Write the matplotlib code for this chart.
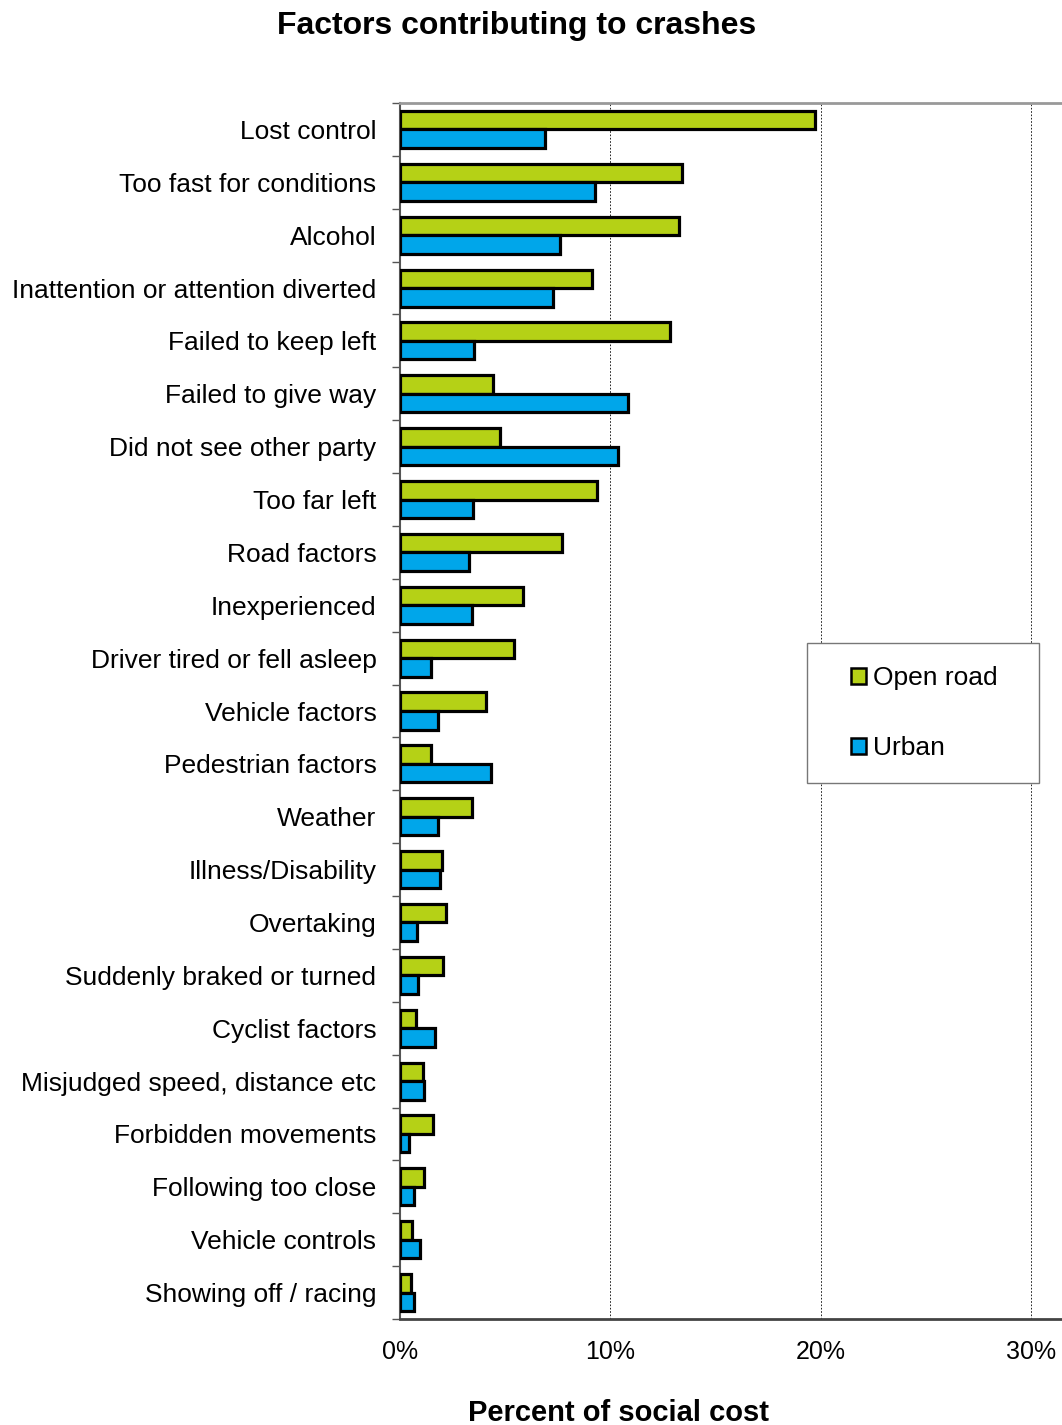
import numpy as np
import matplotlib.pyplot as plt
from matplotlib.patches import Patch, Rectangle
from matplotlib.ticker import FuncFormatter

# categories, top to bottom
factors = ["Lost control", "Too fast for conditions", "Alcohol",
           "Inattention or attention diverted", "Failed to keep left",
           "Failed to give way", "Did not see other party", "Too far left",
           "Road factors", "Inexperienced", "Driver tired or fell asleep",
           "Vehicle factors", "Pedestrian factors", "Weather",
           "Illness/Disability", "Overtaking", "Suddenly braked or turned",
           "Cyclist factors", "Misjudged speed, distance etc",
           "Forbidden movements", "Following too close", "Vehicle controls",
           "Showing off / racing"]

# percent of social cost
open_road = [19.7, 13.4, 13.25, 9.1, 12.85, 4.4, 4.75, 9.35, 7.7, 5.85, 5.4,
             4.1, 1.45, 3.4, 2.0, 2.2, 2.05, 0.75, 1.1, 1.55, 1.15, 0.55, 0.5]
urban = [6.9, 9.25, 7.6, 7.25, 3.5, 10.85, 10.35, 3.45, 3.3, 3.4, 1.45,
         1.8, 4.3, 1.8, 1.9, 0.8, 0.85, 1.65, 1.15, 0.45, 0.65, 0.95, 0.65]

x_ticks = [0, 10, 20, 30]

green = "#b5d116"
blue = "#00a6ea"

plt.rcParams['font.family'] = ['Liberation Sans', 'DejaVu Sans']

W, H = 1062, 1425
fig = plt.figure(figsize=(W / 100, H / 100), dpi=100)
ax = fig.add_axes([400 / W, 1 - 1319 / H, 662 / W, (1319 - 103) / H])

n = len(factors)
y = np.arange(n)
h = 0.35
ax.barh(y - h / 2, open_road, height=h, color=green, edgecolor="black", linewidth=2.3, zorder=3)
ax.barh(y + h / 2, urban, height=h, color=blue, edgecolor="black", linewidth=2.3, zorder=3)

ax.set_ylim(n - 0.5, -0.5)
ax.set_xlim(0, 31.45)

ax.set_yticks(y)
ax.set_yticklabels(factors, fontsize=19)
ax.set_yticks(np.arange(n + 1) - 0.5, minor=True)
ax.tick_params(axis='y', which='major', length=0, pad=17)
ax.tick_params(axis='y', which='minor', length=6, width=1, color="#555555", direction='out')

ax.set_xticks(x_ticks)
ax.xaxis.set_major_formatter(FuncFormatter(lambda v, p: "%d%%" % v))
ax.tick_params(axis='x', length=0, pad=15, labelsize=18)

ax.grid(axis='x', color="black", linestyle=(0, (2, 2)), linewidth=0.6, zorder=0)

ax.spines['right'].set_visible(False)
ax.spines['top'].set_color("#999999")
ax.spines['top'].set_linewidth(2)
ax.spines['bottom'].set_color("#444444")
ax.spines['bottom'].set_linewidth(2)
ax.spines['left'].set_color("#555555")
ax.spines['left'].set_linewidth(1.5)

# axis label sits under the visible part of the plot, cut at the bottom like the original
fig.text(618 / W, 1 - 1421 / H, "Percent of social cost", ha='center', va='baseline',
         fontsize=21, fontweight='bold')

fig.text(517 / W, 1 - 26 / H, "Factors contributing to crashes",
         ha='center', va='center', fontsize=23, fontweight='bold')

# legend box
fig.patches.append(Rectangle((807 / W, 1 - 783 / H), (1039 - 807) / W, (783 - 643) / H,
                             transform=fig.transFigure, facecolor="white",
                             edgecolor="#777777", linewidth=1, zorder=5))
handles = [Patch(facecolor=green, edgecolor="black", linewidth=1.8, label="Open road"),
           Patch(facecolor=blue, edgecolor="black", linewidth=1.8, label="Urban")]
leg = fig.legend(handles=handles, loc='center left',
                 bbox_to_anchor=(851 / W, 1 - 713 / H),
                 fontsize=19, frameon=False, handlelength=0.55, handleheight=0.55,
                 handletextpad=0.3, labelspacing=1.75, borderpad=0, borderaxespad=0)
leg.set_zorder(6)

fig.savefig("out.png", dpi=100)
